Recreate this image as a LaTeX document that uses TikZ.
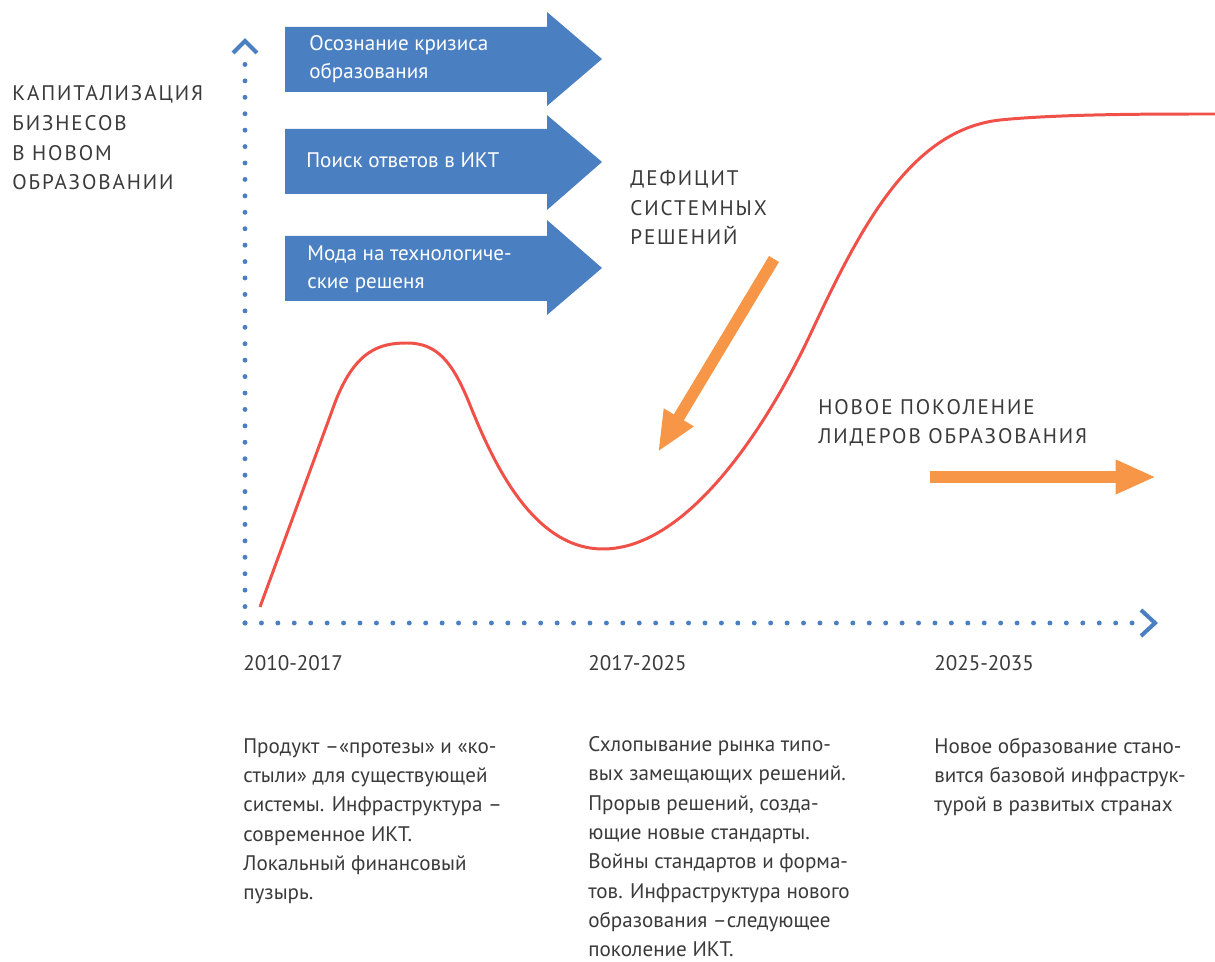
\documentclass[tikz,border=0pt]{standalone}
\usepackage{fontspec}
\setmainfont{PT Sans}
\newfontfamily\capsfont[LetterSpace=9]{PT Sans}
\usetikzlibrary{arrows.meta}
\definecolor{axisblue}{HTML}{4A7FC1}
\definecolor{curvered}{HTML}{EF5148}
\definecolor{trendorange}{HTML}{F79646}
\definecolor{textgray}{HTML}{3A3A3A}

\begin{document}
\begin{tikzpicture}[x=0.02cm, y=-0.02cm,
  axisdots/.style={axisblue, line width=2.8pt, line cap=round, dash pattern=on 0pt off 9.35pt},
  chevron/.style={axisblue, line width=2.3pt},
  blockarrow/.style={fill=axisblue},
  blocktext/.style={anchor=base west, inner sep=0pt, text=white, align=left, font=\fontsize{12}{16.44}\selectfont},
  bodytext/.style={anchor=base west, inner sep=0pt, text=textgray, align=left, font=\fontsize{12}{16.72}\selectfont},
  capstext/.style={anchor=base west, inner sep=0pt, text=textgray, align=left, font=\capsfont\fontsize{12}{16.9}\selectfont},
  trend/.style={trendorange, line width=6.6pt, -{Triangle[length=23pt, width=18.1pt]}}]
\useasboundingbox (0,0) rectangle (1215,962);

\coordinate (origin) at (245,623);
\coordinate (ytop) at (245,62);
\coordinate (xend) at (1136,623);
\draw[axisdots] (origin) -- (ytop);
\draw[axisdots] (origin) -- (xend);
\draw[chevron] (233,53) -- (245,41) -- (257,53);
\draw[chevron] (1141,610) -- (1155,623) -- (1141,636);

\draw[curvered, line width=1.7pt, line join=round] (260,607) -- (336,400)
  .. controls (356,350) and (380,343) .. (407,343)
  .. controls (437,343) and (452,362) .. (468,400)
  .. controls (490,455) and (530,549) .. (603,549)
  .. controls (690,549) and (770,420) .. (810,335)
  .. controls (860,228) and (910,130) .. (1000,120)
  .. controls (1060,114) and (1150,114) .. (1215,114);

\fill[blockarrow] (285,27) -- (547,27) -- (547,12) -- (602,59) -- (547,106) -- (547,92) -- (285,92) -- cycle;
\fill[blockarrow] (285,129) -- (547,129) -- (547,115) -- (602,162) -- (547,210) -- (547,194) -- (285,194) -- cycle;
\fill[blockarrow] (285,236) -- (547,236) -- (547,220) -- (602,268) -- (547,315) -- (547,301) -- (285,301) -- cycle;
\node[blocktext] (crisis) at (309,79) {Осознание кризиса\\образования};
\node[blocktext] (search) at (306,168) {Поиск ответов в ИКТ};
\node[blocktext] (fashion) at (307,289) {Мода на технологиче-\\ские решеня};

\node[capstext] (ylabel) at (12,190) {КАПИТАЛИЗАЦИЯ\\БИЗНЕСОВ\\В НОВОМ\\ОБРАЗОВАНИИ};
\node[capstext] (deficit) at (630,245) {ДЕФИЦИТ\\СИСТЕМНЫХ\\РЕШЕНИЙ};
\node[capstext] (leaders) at (818,444) {НОВОЕ ПОКОЛЕНИЕ\\ЛИДЕРОВ ОБРАЗОВАНИЯ};

\coordinate (deficitstart) at (774,259);
\coordinate (deficitend) at (658,452);
\draw[trend] (deficitstart) -- (deficitend);
\coordinate (leadersstart) at (930,477);
\coordinate (leadersend) at (1156,477);
\draw[trend] (leadersstart) -- (leadersend);

\node[bodytext] (yearsa) at (243,671) {2010-2017};
\node[bodytext] (yearsb) at (588,671) {2017-2025};
\node[bodytext] (yearsc) at (934,671) {2025-2035};

\node[bodytext] (stagea) at (243,900) {Продукт –«протезы» и «ко-\\стыли» для существующей\\системы. Инфраструктура –\\современное ИКТ.\\Локальный финансовый\\пузырь.};
\node[bodytext] (stageb) at (588,957) {Схлопывание рынка типо-\\вых замещающих решений.\\Прорыв решений, созда-\\ющие новые стандарты.\\Войны стандартов и форма-\\тов. Инфраструктура нового\\образования –следующее\\поколение ИКТ.};
\node[bodytext] (stagec) at (934,812) {Новое образование стано-\\вится базовой инфраструк-\\турой в развитых странах};
\end{tikzpicture}
\end{document}
